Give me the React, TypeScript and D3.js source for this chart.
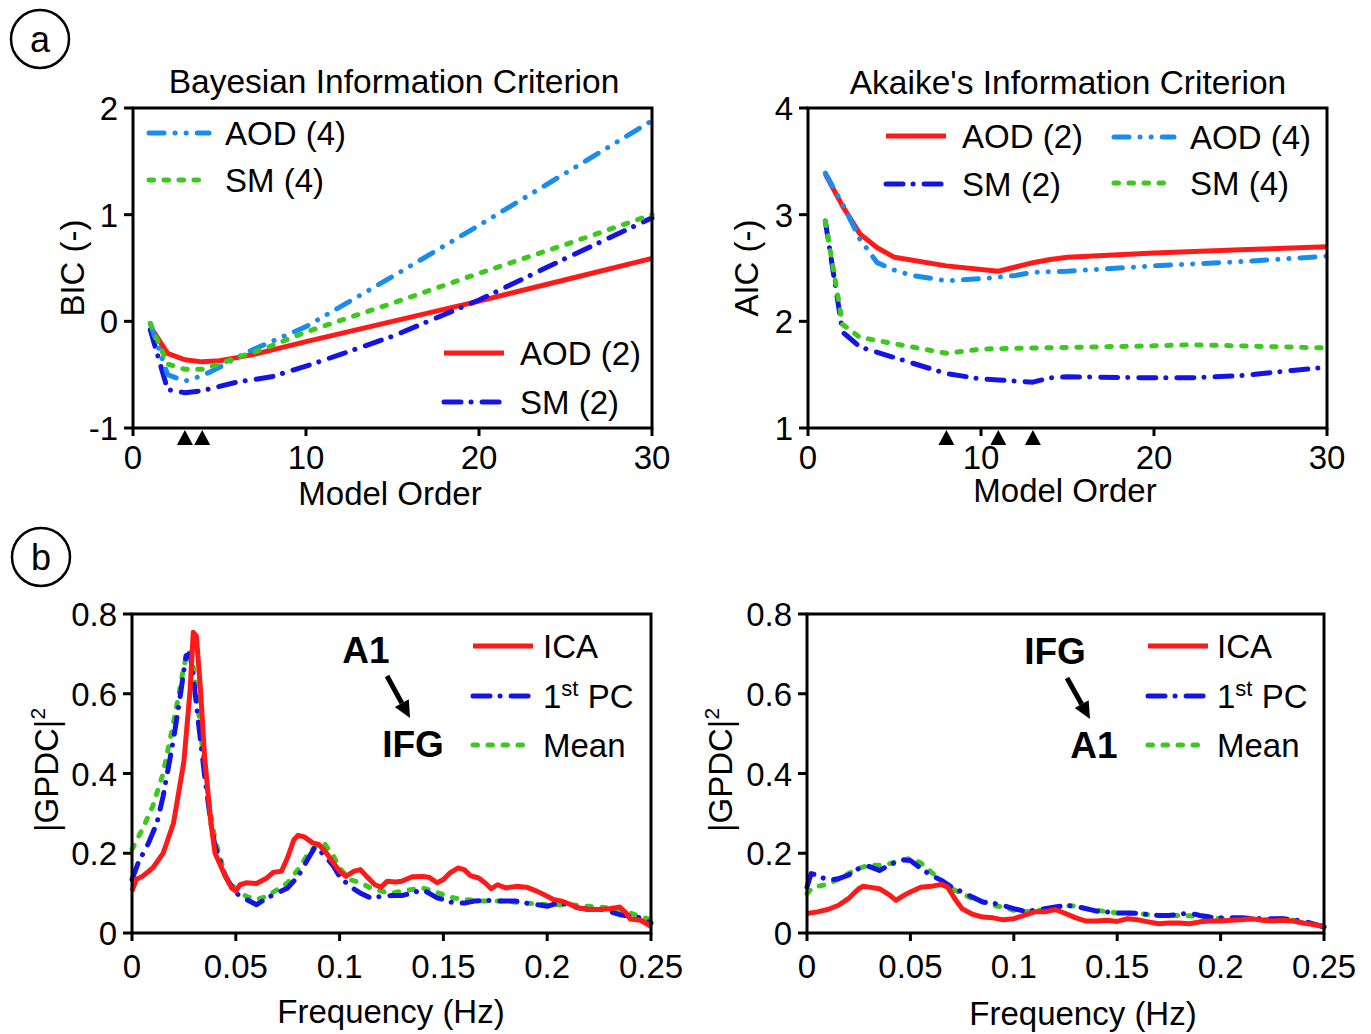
import React from 'react';
import * as d3 from 'd3';

const FONT = '"Liberation Sans", Arial, Helvetica, sans-serif';

// ---------- Colours ----------
const RED = '#ff1a1a';
const LIGHTBLUE = '#1a8cf0';
const BLUE = '#1414e6';
const GREEN = '#3cc81e';

// ---------- Panel a: BIC (model order vs BIC) ----------
const bicAod2: [number, number][] = [[1,-0.05],[2,-0.30],[3,-0.36],[4,-0.38],[5,-0.37],[6,-0.34],[7,-0.31],[8,-0.27],[10,-0.19],[15,0.0],[20,0.19],[25,0.39],[30,0.59]];
const bicSm2: [number, number][] = [[1,-0.08],[2,-0.64],[3,-0.67],[4,-0.65],[5,-0.61],[6,-0.57],[8,-0.52],[10,-0.42],[12,-0.31],[15,-0.14],[20,0.20],[25,0.59],[30,0.97]];
const bicAod4: [number, number][] = [[1,-0.02],[2,-0.50],[3,-0.56],[4,-0.51],[5,-0.43],[6,-0.34],[7,-0.26],[8,-0.19],[10,-0.05],[15,0.42],[20,0.90],[25,1.39],[30,1.88]];
const bicSm4: [number, number][] = [[1,-0.02],[2,-0.40],[3,-0.45],[4,-0.45],[5,-0.40],[6,-0.34],[7,-0.29],[8,-0.23],[10,-0.10],[15,0.17],[20,0.45],[25,0.72],[30,1.0]];
const bicMarkers = [3, 4];

// ---------- Panel a: AIC ----------
const aicAod2: [number, number][] = [[1,3.38],[2,3.08],[3,2.82],[4,2.69],[5,2.60],[8,2.52],[11,2.47],[13,2.55],[14,2.58],[15,2.60],[20,2.64],[25,2.67],[30,2.70]];
const aicAod4: [number, number][] = [[1,3.39],[2,3.10],[3,2.77],[4,2.55],[5,2.48],[6,2.43],[8,2.38],[10,2.40],[12,2.43],[13,2.46],[15,2.47],[20,2.52],[25,2.56],[30,2.61]];
const aicSm2: [number, number][] = [[1,2.94],[2,1.90],[3,1.76],[5,1.66],[8,1.51],[10,1.46],[11,1.45],[13,1.43],[14,1.47],[15,1.48],[20,1.47],[22,1.47],[25,1.49],[28,1.54],[30,1.57]];
const aicSm4: [number, number][] = [[1,2.94],[2,1.97],[3,1.85],[5,1.79],[8,1.70],[10,1.74],[13,1.75],[20,1.77],[22,1.78],[25,1.77],[30,1.75]];
const aicMarkers = [8, 11, 13];

// ---------- Panel b: A1 -> IFG ----------
const a1IfgIca: [number, number][] = [[0,0.105],[0.002,0.134],[0.005,0.142],[0.01,0.163],[0.015,0.2],[0.02,0.276],[0.025,0.43],[0.028,0.61],[0.0295,0.754],[0.031,0.745],[0.033,0.61],[0.035,0.44],[0.038,0.276],[0.04,0.2],[0.045,0.142],[0.048,0.113],[0.05,0.105],[0.052,0.121],[0.055,0.126],[0.06,0.124],[0.065,0.138],[0.068,0.152],[0.072,0.155],[0.075,0.19],[0.078,0.234],[0.08,0.245],[0.083,0.241],[0.087,0.226],[0.09,0.222],[0.093,0.205],[0.097,0.176],[0.1,0.155],[0.103,0.142],[0.107,0.155],[0.11,0.159],[0.113,0.142],[0.117,0.121],[0.12,0.115],[0.123,0.13],[0.127,0.128],[0.13,0.13],[0.135,0.141],[0.14,0.142],[0.143,0.14],[0.147,0.126],[0.15,0.134],[0.153,0.15],[0.157,0.163],[0.16,0.159],[0.163,0.144],[0.167,0.138],[0.17,0.126],[0.173,0.111],[0.176,0.121],[0.18,0.113],[0.185,0.117],[0.19,0.115],[0.195,0.105],[0.2,0.092],[0.203,0.084],[0.207,0.08],[0.21,0.074],[0.215,0.063],[0.22,0.059],[0.225,0.059],[0.23,0.061],[0.235,0.065],[0.238,0.05],[0.24,0.035],[0.245,0.032],[0.25,0.017]];
const a1IfgPc: [number, number][] = [[0,0.134],[0.003,0.176],[0.008,0.226],[0.012,0.276],[0.015,0.343],[0.02,0.486],[0.023,0.586],[0.026,0.695],[0.028,0.7],[0.03,0.62],[0.032,0.528],[0.035,0.394],[0.038,0.276],[0.04,0.218],[0.045,0.142],[0.05,0.1],[0.055,0.084],[0.06,0.071],[0.065,0.088],[0.07,0.1],[0.075,0.113],[0.08,0.142],[0.085,0.188],[0.088,0.214],[0.09,0.209],[0.093,0.193],[0.097,0.168],[0.1,0.142],[0.105,0.117],[0.11,0.1],[0.115,0.088],[0.12,0.092],[0.125,0.094],[0.13,0.094],[0.135,0.1],[0.14,0.109],[0.143,0.1],[0.147,0.088],[0.15,0.084],[0.155,0.075],[0.16,0.075],[0.165,0.08],[0.17,0.082],[0.175,0.08],[0.18,0.08],[0.185,0.08],[0.19,0.075],[0.195,0.071],[0.2,0.067],[0.205,0.075],[0.21,0.071],[0.215,0.063],[0.22,0.059],[0.225,0.06],[0.23,0.054],[0.235,0.046],[0.24,0.042],[0.245,0.038],[0.25,0.025]];
const a1IfgMean: [number, number][] = [[0,0.21],[0.005,0.26],[0.01,0.318],[0.015,0.4],[0.02,0.528],[0.023,0.61],[0.025,0.67],[0.027,0.708],[0.029,0.687],[0.031,0.61],[0.034,0.46],[0.037,0.327],[0.04,0.234],[0.045,0.142],[0.05,0.109],[0.055,0.092],[0.06,0.084],[0.065,0.092],[0.07,0.109],[0.075,0.126],[0.08,0.159],[0.085,0.2],[0.09,0.226],[0.093,0.222],[0.097,0.193],[0.1,0.163],[0.105,0.134],[0.11,0.126],[0.115,0.113],[0.12,0.105],[0.125,0.1],[0.13,0.105],[0.135,0.109],[0.14,0.113],[0.145,0.105],[0.15,0.096],[0.155,0.088],[0.16,0.084],[0.17,0.08],[0.18,0.08],[0.19,0.075],[0.2,0.071],[0.21,0.071],[0.22,0.067],[0.23,0.063],[0.24,0.05],[0.25,0.033]];

// ---------- Panel b: IFG -> A1 ----------
const ifgA1Ica: [number, number][] = [[0,0.049],[0.005,0.053],[0.01,0.059],[0.015,0.069],[0.02,0.086],[0.025,0.111],[0.027,0.117],[0.03,0.115],[0.035,0.111],[0.04,0.095],[0.043,0.082],[0.047,0.095],[0.05,0.103],[0.055,0.115],[0.06,0.117],[0.065,0.122],[0.068,0.115],[0.072,0.082],[0.075,0.061],[0.08,0.047],[0.085,0.04],[0.09,0.038],[0.095,0.033],[0.1,0.036],[0.105,0.044],[0.11,0.053],[0.115,0.053],[0.12,0.059],[0.125,0.049],[0.13,0.038],[0.135,0.03],[0.14,0.03],[0.145,0.032],[0.15,0.029],[0.155,0.036],[0.16,0.033],[0.165,0.028],[0.17,0.023],[0.175,0.025],[0.18,0.025],[0.185,0.023],[0.19,0.028],[0.195,0.03],[0.2,0.03],[0.205,0.032],[0.21,0.033],[0.215,0.036],[0.22,0.032],[0.225,0.03],[0.23,0.032],[0.235,0.03],[0.24,0.025],[0.245,0.021],[0.25,0.017]];
const ifgA1Pc: [number, number][] = [[0,0.115],[0.002,0.149],[0.005,0.145],[0.01,0.132],[0.015,0.136],[0.02,0.145],[0.025,0.162],[0.03,0.167],[0.035,0.157],[0.04,0.17],[0.045,0.184],[0.05,0.182],[0.055,0.162],[0.06,0.145],[0.065,0.132],[0.07,0.115],[0.075,0.103],[0.08,0.09],[0.085,0.078],[0.09,0.075],[0.095,0.069],[0.1,0.061],[0.105,0.055],[0.11,0.057],[0.115,0.061],[0.12,0.065],[0.125,0.069],[0.13,0.067],[0.135,0.061],[0.14,0.055],[0.145,0.053],[0.15,0.05],[0.155,0.05],[0.16,0.049],[0.165,0.046],[0.17,0.044],[0.175,0.044],[0.18,0.047],[0.185,0.05],[0.19,0.044],[0.195,0.04],[0.2,0.038],[0.21,0.038],[0.22,0.036],[0.23,0.036],[0.24,0.03],[0.25,0.015]];
const ifgA1Mean: [number, number][] = [[0,0.099],[0.003,0.115],[0.008,0.12],[0.012,0.128],[0.016,0.136],[0.02,0.149],[0.025,0.162],[0.03,0.17],[0.035,0.17],[0.04,0.174],[0.045,0.182],[0.05,0.187],[0.055,0.176],[0.06,0.153],[0.065,0.132],[0.07,0.111],[0.075,0.099],[0.08,0.086],[0.085,0.078],[0.09,0.069],[0.095,0.065],[0.1,0.057],[0.105,0.053],[0.11,0.055],[0.115,0.059],[0.12,0.061],[0.125,0.069],[0.13,0.067],[0.135,0.061],[0.14,0.057],[0.15,0.05],[0.16,0.049],[0.17,0.044],[0.18,0.044],[0.19,0.042],[0.2,0.036],[0.21,0.036],[0.22,0.033],[0.23,0.036],[0.24,0.028],[0.25,0.015]];

// ---------- Ticks ----------
const orderTicks = [0, 10, 20, 30];
const bicTicks = [-1, 0, 1, 2];
const aicTicks = [1, 2, 3, 4];
const freqTicks = [0, 0.05, 0.1, 0.15, 0.2, 0.25];
const freqTickLabels = ['0', '0.05', '0.1', '0.15', '0.2', '0.25'];
const gpdcTicks = [0, 0.2, 0.4, 0.6, 0.8];
const gpdcTickLabels = ['0', '0.2', '0.4', '0.6', '0.8'];

// ---------- Styles ----------
type Style = { color: string; dash: string | null };
const styles: Record<string, Style> = {
  solid: { color: RED, dash: null },
  dashDotDot: { color: LIGHTBLUE, dash: '15 11 0.1 11 0.1 11' },
  dashDot: { color: BLUE, dash: '17 10 0.1 11' },
  dotted: { color: GREEN, dash: '4.5 10.5' },
};

type Series = { data: [number, number][]; style: string };
type LegendItem = { label: React.ReactNode; style: string; x: number; y: number };

interface PanelCfg {
  x0: number; x1: number; y0: number; y1: number;
  xDomain: [number, number]; yDomain: [number, number];
  xTicks: number[]; xTickLabels?: string[];
  yTicks: number[]; yTickLabels?: string[];
  xLabelBase: number;
  series: Series[];
  legend: LegendItem[];
  legendTextGap: number;
  markers?: number[];
}

const SW = 5;

function Panel({ cfg }: { cfg: PanelCfg }) {
  const x = d3.scaleLinear().domain(cfg.xDomain).range([cfg.x0, cfg.x1]);
  const y = d3.scaleLinear().domain(cfg.yDomain).range([cfg.y1, cfg.y0]);
  const line = d3.line<[number, number]>().x(d => x(d[0])).y(d => y(d[1]));
  return (
    <g>
      {cfg.series.map((s, i) => {
        const st = styles[s.style];
        return (
          <path key={i} d={line(s.data) || ''} fill="none" stroke={st.color} strokeWidth={SW}
            strokeDasharray={st.dash || undefined} strokeLinecap={st.dash ? 'round' : 'butt'} strokeLinejoin="round" />
        );
      })}
      <rect x={cfg.x0} y={cfg.y0} width={cfg.x1 - cfg.x0} height={cfg.y1 - cfg.y0} fill="none" stroke="#000" strokeWidth={3} />
      {cfg.yTicks.map((t, i) => (
        <g key={'y' + i}>
          <line x1={cfg.x0 - 9} x2={cfg.x0} y1={y(t)} y2={y(t)} stroke="#000" strokeWidth={3} />
          <text x={cfg.x0 - 15} y={y(t) + 12} textAnchor="end" fontSize={33} fontFamily={FONT}>
            {cfg.yTickLabels ? cfg.yTickLabels[i] : String(t)}
          </text>
        </g>
      ))}
      {cfg.xTicks.map((t, i) => (
        <g key={'x' + i}>
          <line x1={x(t)} x2={x(t)} y1={cfg.y1} y2={cfg.y1 + 8} stroke="#000" strokeWidth={3} />
          <text x={x(t)} y={cfg.xLabelBase} textAnchor="middle" fontSize={33} fontFamily={FONT}>
            {cfg.xTickLabels ? cfg.xTickLabels[i] : String(t)}
          </text>
        </g>
      ))}
      {(cfg.markers || []).map((m, i) => (
        <path key={'m' + i} d={`M${x(m)},${cfg.y1 + 2} L${x(m) + 8},${cfg.y1 + 17} L${x(m) - 8},${cfg.y1 + 17} Z`} fill="#000" />
      ))}
      {cfg.legend.map((l, i) => {
        const st = styles[l.style];
        return (
          <g key={'l' + i}>
            <line x1={l.x} x2={l.x + 60} y1={l.y} y2={l.y} stroke={st.color} strokeWidth={SW}
              strokeDasharray={st.dash || undefined} strokeLinecap={st.dash ? 'round' : 'butt'} />
            <text x={l.x + cfg.legendTextGap} y={l.y + 12} fontSize={33} fontFamily={FONT}>{l.label}</text>
          </g>
        );
      })}
    </g>
  );
}

function Arrow({ x1, y1, x2, y2 }: { x1: number; y1: number; x2: number; y2: number }) {
  const ang = Math.atan2(y2 - y1, x2 - x1);
  const len = 17, half = 8;
  const bx = x2 - len * Math.cos(ang), by = y2 - len * Math.sin(ang);
  const px = -Math.sin(ang) * half, py = Math.cos(ang) * half;
  return (
    <g>
      <line x1={x1} y1={y1} x2={bx} y2={by} stroke="#000" strokeWidth={5} />
      <path d={`M${x2},${y2} L${bx + px},${by + py} L${bx - px},${by - py} Z`} fill="#000" />
    </g>
  );
}

const FirstPC = () => (
  <>
    <tspan>1</tspan>
    <tspan dy={-12} fontSize={22}>st</tspan>
    <tspan dy={12}> PC</tspan>
  </>
);

export default function App() {
  const bic: PanelCfg = {
    x0: 133, x1: 652, y0: 108, y1: 428, xDomain: [0, 30], yDomain: [-1, 2],
    xTicks: orderTicks, yTicks: bicTicks, xLabelBase: 469,
    series: [
      { data: bicAod2, style: 'solid' },
      { data: bicSm2, style: 'dashDot' },
      { data: bicAod4, style: 'dashDotDot' },
      { data: bicSm4, style: 'dotted' },
    ],
    legend: [
      { label: 'AOD (4)', style: 'dashDotDot', x: 149, y: 133 },
      { label: 'SM (4)', style: 'dotted', x: 149, y: 180 },
      { label: 'AOD (2)', style: 'solid', x: 444, y: 353 },
      { label: 'SM (2)', style: 'dashDot', x: 444, y: 402 },
    ],
    legendTextGap: 76,
    markers: bicMarkers,
  };
  const aic: PanelCfg = {
    x0: 808, x1: 1327, y0: 108, y1: 428, xDomain: [0, 30], yDomain: [1, 4],
    xTicks: orderTicks, yTicks: aicTicks, xLabelBase: 469,
    series: [
      { data: aicAod2, style: 'solid' },
      { data: aicSm2, style: 'dashDot' },
      { data: aicAod4, style: 'dashDotDot' },
      { data: aicSm4, style: 'dotted' },
    ],
    legend: [
      { label: 'AOD (2)', style: 'solid', x: 886, y: 136 },
      { label: 'AOD (4)', style: 'dashDotDot', x: 1114, y: 137 },
      { label: 'SM (2)', style: 'dashDot', x: 886, y: 184 },
      { label: 'SM (4)', style: 'dotted', x: 1114, y: 183 },
    ],
    legendTextGap: 76,
    markers: aicMarkers,
  };
  const g1: PanelCfg = {
    x0: 132, x1: 651, y0: 614, y1: 933, xDomain: [0, 0.25], yDomain: [0, 0.8],
    xTicks: freqTicks, xTickLabels: freqTickLabels, yTicks: gpdcTicks, yTickLabels: gpdcTickLabels, xLabelBase: 978,
    series: [
      { data: a1IfgMean, style: 'dotted' },
      { data: a1IfgPc, style: 'dashDot' },
      { data: a1IfgIca, style: 'solid' },
    ],
    legend: [
      { label: 'ICA', style: 'solid', x: 473, y: 646 },
      { label: <FirstPC />, style: 'dashDot', x: 473, y: 696 },
      { label: 'Mean', style: 'dotted', x: 473, y: 745 },
    ],
    legendTextGap: 70,
  };
  const g2: PanelCfg = {
    x0: 807, x1: 1324, y0: 614, y1: 933, xDomain: [0, 0.25], yDomain: [0, 0.8],
    xTicks: freqTicks, xTickLabels: freqTickLabels, yTicks: gpdcTicks, yTickLabels: gpdcTickLabels, xLabelBase: 978,
    series: [
      { data: ifgA1Mean, style: 'dotted' },
      { data: ifgA1Pc, style: 'dashDot' },
      { data: ifgA1Ica, style: 'solid' },
    ],
    legend: [
      { label: 'ICA', style: 'solid', x: 1148, y: 646 },
      { label: <FirstPC />, style: 'dashDot', x: 1148, y: 696 },
      { label: 'Mean', style: 'dotted', x: 1148, y: 745 },
    ],
    legendTextGap: 69,
  };

  const txt = { fontFamily: FONT, fontSize: 33, fill: '#000' } as const;

  return (
    <svg width={1371} height={1034} style={{ position: 'absolute', left: 0, top: 0, display: 'block', background: '#fff' }}>
      <rect x={0} y={0} width={1371} height={1034} fill="#fff" />
      {/* panel letters */}
      <circle cx={40} cy={39} r={29} fill="none" stroke="#000" strokeWidth={2.5} />
      <text x={40} y={52} textAnchor="middle" {...txt} fontSize={36}>a</text>
      <circle cx={41} cy={557} r={29} fill="none" stroke="#000" strokeWidth={2.5} />
      <text x={41} y={570} textAnchor="middle" {...txt} fontSize={36}>b</text>

      {/* titles */}
      <text x={394} y={93} textAnchor="middle" {...txt} fontSize={33.5}>Bayesian Information Criterion</text>
      <text x={1068} y={94} textAnchor="middle" {...txt} fontSize={33.5}>Akaike's Information Criterion</text>

      <Panel cfg={bic} />
      <Panel cfg={aic} />
      <Panel cfg={g1} />
      <Panel cfg={g2} />

      {/* axis labels */}
      <text x={390} y={505} textAnchor="middle" {...txt}>Model Order</text>
      <text x={1065} y={502} textAnchor="middle" {...txt}>Model Order</text>
      <text x={391} y={1023} textAnchor="middle" {...txt}>Frequency (Hz)</text>
      <text x={1083} y={1025} textAnchor="middle" {...txt}>Frequency (Hz)</text>
      <text transform="translate(84,268) rotate(-90)" textAnchor="middle" {...txt}>BIC (-)</text>
      <text transform="translate(758,268) rotate(-90)" textAnchor="middle" {...txt}>AIC (-)</text>
      <text transform="translate(58,770) rotate(-90)" textAnchor="middle" {...txt}>
        |GPDC|<tspan dy={-13} fontSize={21}>2</tspan>
      </text>
      <text transform="translate(732,770) rotate(-90)" textAnchor="middle" {...txt}>
        |GPDC|<tspan dy={-13} fontSize={21}>2</tspan>
      </text>

      {/* direction annotations */}
      <text x={366} y={663} textAnchor="middle" fontFamily={FONT} fontSize={37} fontWeight="bold">A1</text>
      <Arrow x1={387} y1={676} x2={410} y2={718} />
      <text x={413} y={757} textAnchor="middle" fontFamily={FONT} fontSize={37} fontWeight="bold">IFG</text>

      <text x={1055} y={664} textAnchor="middle" fontFamily={FONT} fontSize={37} fontWeight="bold">IFG</text>
      <Arrow x1={1067} y1={678} x2={1090} y2={719} />
      <text x={1094} y={758} textAnchor="middle" fontFamily={FONT} fontSize={37} fontWeight="bold">A1</text>
    </svg>
  );
}
